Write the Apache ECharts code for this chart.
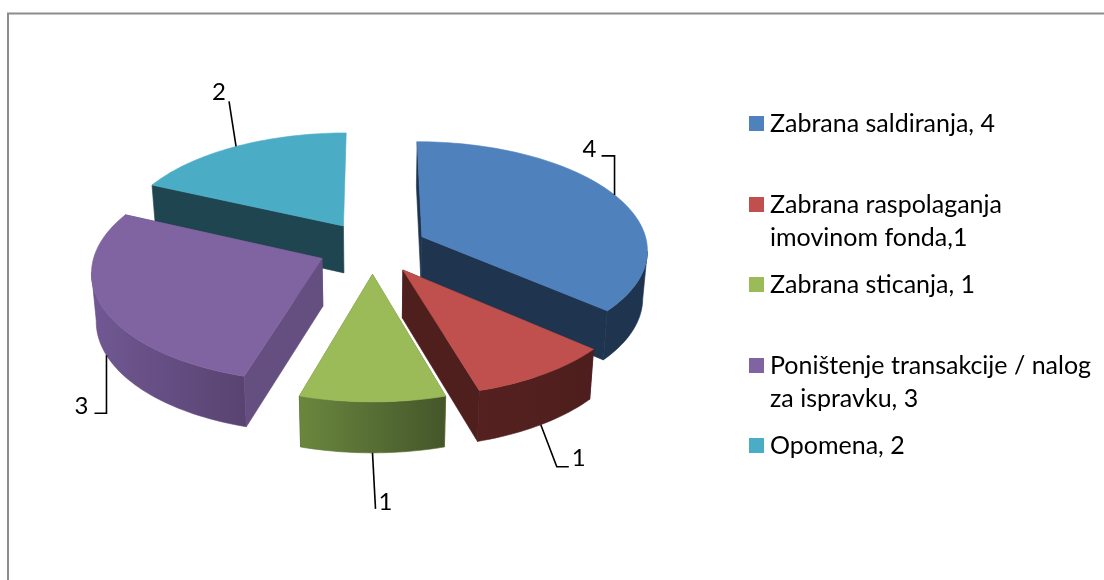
<!DOCTYPE html>
<html><head><meta charset="utf-8">
<style>html,body{margin:0;padding:0;background:#fff}#c{width:1104px;height:580px}</style>
<script src="https://cdn.jsdelivr.net/npm/echarts@6/dist/echarts.min.js"></script>
</head><body><div id="c"></div>
<script>
const categories = ['Zabrana saldiranja, 4','Zabrana raspolaganja imovinom fonda,1','Zabrana sticanja, 1','Poništenje transakcije / nalog za ispravku, 3','Opomena, 2'];
const legendLines = ['Zabrana saldiranja, 4','\nZabrana raspolaganja\nimovinom fonda,1','Zabrana sticanja, 1','\nPoništenje transakcije / nalog\nza ispravku, 3','Opomena, 2'];
const values = [4,1,1,3,2];
const topColors = ['#4F81BD','#C0504D','#9BBB59','#8064A2','#4BACC6'];
const sideColors = ['#1F344F','#4F1F1E','#5F7537','#654E80','#1E4550'];
const wallStops = [['#1F344F','#1F344F'],['#552120','#4D1E1D'],['#6A873E','#44562A'],['#715893','#584370'],['#1E4550','#1E4550']];
const legendCenters = [123.5,204.5,284.5,365.5,445.5];
/* leader elbows and label centres, relative to the arc anchor of each slice */
const leaderElbows = [[[0,-39],[-13,-39]],[[16,42],[28,42]],[[3,56]],[[0,58],[-12,58]],[[-7,-45]]];
const labelOffsets = [[-25,-46],[38,34],[13,49],[-25,51],[-17,-54]];

const FONT='Lato';
const P={cx:372.5,cy:247.5,ax:226,ay:107.5,p:0.108,e:0.243,h:47.5,hk:0.06,lean:0.017,edgeOn:180};
const total=values.reduce((a,b)=>a+b,0);
const rad=d=>d*Math.PI/180;
const slices=[];let acc=0;
values.forEach(v=>{const a0=acc/total*360;acc+=v;const a1=acc/total*360;slices.push({a0,a1,mid:(a0+a1)/2});});
function ground(s,th){const ex=P.e*Math.sin(rad(s.mid)),ey=-P.e*Math.cos(rad(s.mid));
  return [ex+Math.sin(rad(th)),ey-Math.cos(rad(th))];}
function top3(U,V){const d=1-P.p*V;return [P.cx+P.ax*U/d,P.cy+P.ay*V/d];}
function low3(U,V){const t=top3(U,V);return [P.cx+(t[0]-P.cx)*(1-P.lean),t[1]+P.h*(1+P.hk*V)];}
function apexV(s){return -P.e*Math.cos(rad(s.mid));}
function arc(s,lo,hi,fn){const n=Math.max(2,Math.round((hi-lo)/1.5));const o=[];
  for(let i=0;i<=n;i++){const g=ground(s,lo+(hi-lo)*i/n);o.push(fn(g[0],g[1]));}return o;}
function crossOf(a,b,c){return (b[0]-a[0])*(c[1]-b[1])-(b[1]-a[1])*(c[0]-b[0]);}

function renderSlice(i){
  const s=slices[i];
  const ex=P.e*Math.sin(rad(s.mid)),ey=apexV(s);
  const aT=top3(ex,ey),aL=low3(ex,ey);
  const g0=ground(s,s.a0),g1=ground(s,s.a1);
  const sT=top3(g0[0],g0[1]),sL=low3(g0[0],g0[1]);
  const eT=top3(g1[0],g1[1]),eL=low3(g1[0],g1[1]);
  const poly=(pts,fill,stroke)=>({type:'polygon',shape:{points:pts},style:{fill:fill,stroke:stroke||fill,lineWidth:0.6}});
  const startQ=poly([aT,sT,sL,aL],sideColors[i]);
  const endQ=poly([aT,eT,eL,aL],sideColors[i]);
  const startC=crossOf(aT,sT,sL), endC=crossOf(aT,eT,eL);
  const kids=[];
  // walls turned away from the viewer go first; nearly edge-on walls are left out
  if(startC>P.edgeOn)kids.push(startQ);
  if(endC<-P.edgeOn)kids.push(endQ);
  // outer wall: only the part of the arc that turns towards the viewer
  const tops=arc(s,s.a0,s.a1,top3),lows=arc(s,s.a0,s.a1,low3);
  const visT=[],visL=[];
  for(let k=0;k<tops.length;k++){
    const next=k<tops.length-1?tops[k+1]:null,prev=k>0?tops[k-1]:null;
    if((next&&next[0]<tops[k][0])||(prev&&tops[k][0]<prev[0])){visT.push(tops[k]);visL.push(lows[k]);}
  }
  if(visT.length>1){
    const stops=wallStops[i];
    kids.push(poly(visT.concat(visL.slice().reverse()),
      {type:'linear',x:0,y:0,x2:1,y2:0,colorStops:[{offset:0,color:stops[0]},{offset:1,color:stops[1]}]},sideColors[i]));
  }
  if(startC<-P.edgeOn)kids.push(startQ);
  if(endC>P.edgeOn)kids.push(endQ);
  kids.push(poly([aT].concat(tops),topColors[i]));
  // leader and value label
  const gm=ground(s,s.mid);
  const anchor=gm[1]>0?low3(gm[0],gm[1]):top3(gm[0],gm[1]);
  const pts=[anchor].concat(leaderElbows[i].map(o=>[anchor[0]+o[0],anchor[1]+o[1]]));
  kids.push({type:'polyline',shape:{points:pts},style:{fill:null,stroke:'#000',lineWidth:1.6}});
  kids.push({type:'text',style:{x:anchor[0]+labelOffsets[i][0],y:anchor[1]+labelOffsets[i][1],text:String(values[i]),fill:'#000',font:'24px '+FONT,textAlign:'center',textVerticalAlign:'middle'}});
  return {type:'group',children:kids};
}
const order=slices.map((s,i)=>i).sort((a,b)=>apexV(slices[a])-apexV(slices[b]));
const series=categories.map((name,i)=>({
  type:'custom',name:name,coordinateSystem:'none',z:2+order.indexOf(i),silent:true,animation:false,
  itemStyle:{color:topColors[i]},data:[values[i]],renderItem:()=>renderSlice(i)
}));
const legends=categories.map((name,i)=>{
  const lines=legendLines[i].split('\n').length;
  const lh=33;
  return {data:[name],left:749,top:legendCenters[i]-lines*lh/2,orient:'vertical',selectedMode:false,icon:'rect',
    itemWidth:15,itemHeight:15,itemGap:0,padding:0,
    formatter:()=>legendLines[i],
    textStyle:{color:'#000',fontFamily:FONT,fontSize:25,lineHeight:lh,padding:[0,0,0,1]}};
});
const chart=echarts.init(document.getElementById('c'),null,{renderer:'canvas'});
chart.setOption({animation:false,backgroundColor:'#fff',legend:legends,series:series,
  graphic:[{type:'polyline',silent:true,z:1,shape:{points:[[8,580],[8,13.5],[1104,13.5]]},style:{fill:null,stroke:'#8c8c8c',lineWidth:2}}]});
</script></body></html>
